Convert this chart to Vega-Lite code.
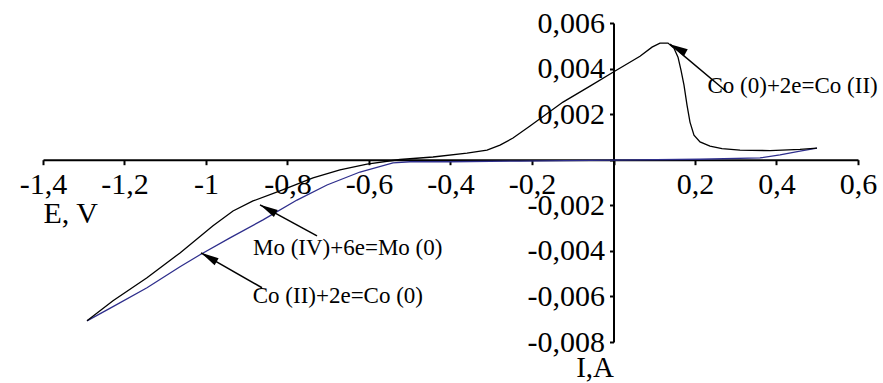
{
  "$schema": "https://vega.github.io/schema/vega-lite/v6.json",
  "autosize": "none",
  "width": 815,
  "height": 319,
  "padding": {"left": 43, "top": 23, "right": 25, "bottom": 41},
  "background": "white",
  "config": {"view": {"stroke": null}, "font": "Times New Roman, Liberation Serif, DejaVu Serif, serif"},
  "encoding": {
    "x": {
      "field": "E", "type": "quantitative",
      "scale": {"domain": [-1.4, 0.6], "nice": false, "zero": false},
      "axis": {
        "values": [-1.4, -1.2, -1, -0.8, -0.6, -0.4, -0.2, 0, 0.2, 0.4, 0.6],
        "labelExpr": "datum.value == 0 ? '' : replace(replace(format(datum.value, '.1~f'), '.', ','), '\u2212', '-')",
        "offset": -182.3,
        "grid": false,
        "domainColor": "black", "domainWidth": 2,
        "tickColor": "black", "tickWidth": 2, "tickSize": 5,
        "labelFont": "Times New Roman, Liberation Serif, DejaVu Serif, serif", "labelFontSize": 30, "labelColor": "black",
        "labelPadding": 5, "labelOverlap": false, "labelFlush": false,
        "title": "E, V", "titleX": 0, "titleY": 63, "titleAlign": "left", "titleBaseline": "alphabetic",
        "titleFont": "Times New Roman, Liberation Serif, DejaVu Serif, serif", "titleFontSize": 30, "titleFontWeight": "normal", "titleColor": "black"
      }
    },
    "y": {
      "field": "I", "type": "quantitative",
      "scale": {"domain": [-0.008, 0.006], "nice": false, "zero": false},
      "axis": {
        "values": [-0.008, -0.006, -0.004, -0.002, 0, 0.002, 0.004, 0.006],
        "labelExpr": "datum.value == 0 ? '' : replace(replace(format(datum.value, '.3f'), '.', ','), '\u2212', '-')",
        "offset": -570.5,
        "grid": false,
        "domainColor": "black", "domainWidth": 2,
        "tickColor": "black", "tickWidth": 2, "tickSize": 4,
        "labelFont": "Times New Roman, Liberation Serif, DejaVu Serif, serif", "labelFontSize": 30, "labelColor": "black",
        "labelPadding": 5, "labelOverlap": false, "labelFlush": false,
        "title": "I,A", "titleAngle": 0, "titleX": 0, "titleY": 353, "titleAlign": "right", "titleBaseline": "alphabetic",
        "titleFont": "Times New Roman, Liberation Serif, DejaVu Serif, serif", "titleFontSize": 29, "titleFontWeight": "normal", "titleColor": "black"
      }
    }
  },
  "layer": [
    {
      "data": {"values": [
        {"trace": "forward", "i": 0, "E": 0.4994, "I": 0.00051},
        {"trace": "forward", "i": 1, "E": 0.4577, "I": 0.00038},
        {"trace": "forward", "i": 2, "E": 0.4086, "I": 0.00021},
        {"trace": "forward", "i": 3, "E": 0.3595, "I": 0.00008},
        {"trace": "forward", "i": 4, "E": 0.2123, "I": 0.00002},
        {"trace": "forward", "i": 5, "E": 0.0, "I": -0.00002},
        {"trace": "forward", "i": 6, "E": -0.2294, "I": -0.00006},
        {"trace": "forward", "i": 7, "E": -0.4012, "I": -0.00009},
        {"trace": "forward", "i": 8, "E": -0.4994, "I": -0.00009},
        {"trace": "forward", "i": 9, "E": -0.5411, "I": -0.00014},
        {"trace": "forward", "i": 10, "E": -0.6221, "I": -0.00054},
        {"trace": "forward", "i": 11, "E": -0.7031, "I": -0.00111},
        {"trace": "forward", "i": 12, "E": -0.7767, "I": -0.00177},
        {"trace": "forward", "i": 13, "E": -0.8601, "I": -0.00264},
        {"trace": "forward", "i": 14, "E": -0.9411, "I": -0.00343},
        {"trace": "forward", "i": 15, "E": -1.0147, "I": -0.00417},
        {"trace": "forward", "i": 16, "E": -1.0638, "I": -0.0047},
        {"trace": "forward", "i": 17, "E": -1.1448, "I": -0.00562},
        {"trace": "forward", "i": 18, "E": -1.2282, "I": -0.00645},
        {"trace": "forward", "i": 19, "E": -1.292, "I": -0.00707},
        {"trace": "reverse", "i": 0, "E": -1.292, "I": -0.00707},
        {"trace": "reverse", "i": 1, "E": -1.2282, "I": -0.00619},
        {"trace": "reverse", "i": 2, "E": -1.1448, "I": -0.00518},
        {"trace": "reverse", "i": 3, "E": -1.0638, "I": -0.00409},
        {"trace": "reverse", "i": 4, "E": -0.9828, "I": -0.0029},
        {"trace": "reverse", "i": 5, "E": -0.9337, "I": -0.00225},
        {"trace": "reverse", "i": 6, "E": -0.8847, "I": -0.00181},
        {"trace": "reverse", "i": 7, "E": -0.8184, "I": -0.00137},
        {"trace": "reverse", "i": 8, "E": -0.7374, "I": -0.0008},
        {"trace": "reverse", "i": 9, "E": -0.6712, "I": -0.00045},
        {"trace": "reverse", "i": 10, "E": -0.6049, "I": -0.00019},
        {"trace": "reverse", "i": 11, "E": -0.5239, "I": 0.00001},
        {"trace": "reverse", "i": 12, "E": -0.4429, "I": 0.00012},
        {"trace": "reverse", "i": 13, "E": -0.3595, "I": 0.00029},
        {"trace": "reverse", "i": 14, "E": -0.3104, "I": 0.00042},
        {"trace": "reverse", "i": 15, "E": -0.2785, "I": 0.00064},
        {"trace": "reverse", "i": 16, "E": -0.2466, "I": 0.00095},
        {"trace": "reverse", "i": 17, "E": -0.2049, "I": 0.00148},
        {"trace": "reverse", "i": 18, "E": -0.1239, "I": 0.00253},
        {"trace": "reverse", "i": 19, "E": -0.0577, "I": 0.00323},
        {"trace": "reverse", "i": 20, "E": -0.0012, "I": 0.00384},
        {"trace": "reverse", "i": 21, "E": 0.065, "I": 0.00454},
        {"trace": "reverse", "i": 22, "E": 0.0945, "I": 0.00494},
        {"trace": "reverse", "i": 23, "E": 0.1141, "I": 0.00512},
        {"trace": "reverse", "i": 24, "E": 0.1337, "I": 0.00512},
        {"trace": "reverse", "i": 25, "E": 0.1485, "I": 0.00489},
        {"trace": "reverse", "i": 26, "E": 0.1583, "I": 0.0045},
        {"trace": "reverse", "i": 27, "E": 0.1656, "I": 0.00393},
        {"trace": "reverse", "i": 28, "E": 0.173, "I": 0.00327},
        {"trace": "reverse", "i": 29, "E": 0.1804, "I": 0.0024},
        {"trace": "reverse", "i": 30, "E": 0.1877, "I": 0.00165},
        {"trace": "reverse", "i": 31, "E": 0.1975, "I": 0.00108},
        {"trace": "reverse", "i": 32, "E": 0.2123, "I": 0.00078},
        {"trace": "reverse", "i": 33, "E": 0.2368, "I": 0.0006},
        {"trace": "reverse", "i": 34, "E": 0.2663, "I": 0.00049},
        {"trace": "reverse", "i": 35, "E": 0.3104, "I": 0.00042},
        {"trace": "reverse", "i": 36, "E": 0.384, "I": 0.0004},
        {"trace": "reverse", "i": 37, "E": 0.4577, "I": 0.00045},
        {"trace": "reverse", "i": 38, "E": 0.4994, "I": 0.00051}
      ]},
      "mark": {"type": "line", "strokeWidth": 1.3, "interpolate": "linear"},
      "encoding": {
        "color": {"field": "trace", "type": "nominal", "legend": null,
          "scale": {"domain": ["forward", "reverse"], "range": ["#2e2e8c", "#000000"]}},
        "order": {"field": "i", "type": "quantitative"}
      }
    },
    {
      "data": {"values": [
        {"E": 0.2785, "I": 0.00297, "E2": 0.1387, "I2": 0.00507},
        {"E": -0.7276, "I": -0.00334, "E2": -0.8675, "I2": -0.00198},
        {"E": -0.8626, "I": -0.00562, "E2": -1.0123, "I2": -0.00409}
      ]},
      "mark": {"type": "rule", "color": "black", "strokeWidth": 1.5},
      "encoding": {
        "x2": {"field": "E2"},
        "y2": {"field": "I2"}
      }
    },
    {
      "data": {"values": [{"E": 0.158, "I": 0.00488}]},
      "mark": {"type": "point", "shape": "M0,-1L0.45,1L-0.45,1Z", "filled": true, "color": "black", "opacity": 1, "size": 324, "angle": 298.5}
    },
    {
      "data": {"values": [{"E": -0.8481, "I": -0.00217}]},
      "mark": {"type": "point", "shape": "M0,-1L0.45,1L-0.45,1Z", "filled": true, "color": "black", "opacity": 1, "size": 324, "angle": 298.5}
    },
    {
      "data": {"values": [{"E": -0.9931, "I": -0.00428}]},
      "mark": {"type": "point", "shape": "M0,-1L0.45,1L-0.45,1Z", "filled": true, "color": "black", "opacity": 1, "size": 324, "angle": 299.8}
    },
    {
      "data": {"values": [
        {"label": "Co (0)+2e=Co (II)", "E": 0.2306, "I": 0.00291},
        {"label": "Mo (IV)+6e=Mo (0)", "E": -0.8847, "I": -0.00417},
        {"label": "Co (II)+2e=Co (0)", "E": -0.8853, "I": -0.00629}
      ]},
      "mark": {"type": "text", "align": "left", "baseline": "alphabetic", "font": "Times New Roman, Liberation Serif, DejaVu Serif, serif", "fontSize": 23, "color": "black"},
      "encoding": {
        "text": {"field": "label", "type": "nominal"}
      }
    }
  ]
}
